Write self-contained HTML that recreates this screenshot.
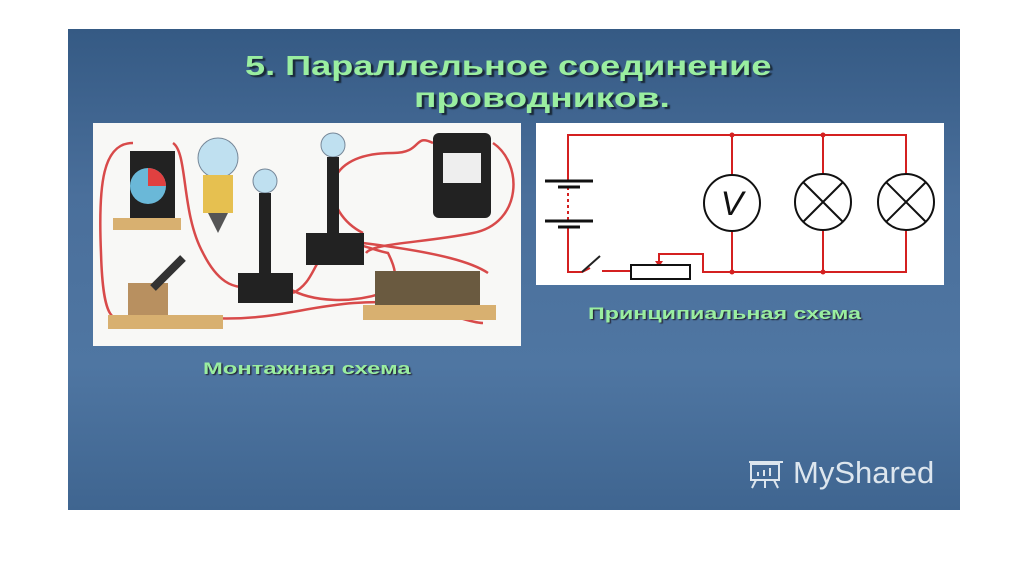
<!DOCTYPE html>
<html><head><meta charset="utf-8"><style>
body{margin:0;width:1024px;height:574px;background:#fff;position:relative;overflow:hidden;font-family:"Liberation Sans",sans-serif}
#slide{position:absolute;left:68px;top:29px;width:892px;height:481px;background:linear-gradient(180deg,#355a84 0%,#4a6f9b 35%,#4f76a2 70%,#3f6590 100%)}
.t{position:absolute;font-weight:bold;color:#9aeea0;text-shadow:2px 2px 1px #1a2a3a;white-space:nowrap;transform-origin:0 0}
</style></head><body>
<div id="slide"></div>
<div class="t" style="left:245px;top:50px;font-size:28px;transform:scaleX(1.29)">5. Параллельное соединение</div>
<div class="t" style="left:414px;top:82px;font-size:28px;transform:scaleX(1.33)">проводников.</div>
<div class="t" style="left:588px;top:304px;font-size:17px;transform:scaleX(1.37);text-shadow:1px 1px 1px #223">Принципиальная схема</div>
<div class="t" style="left:203px;top:359px;font-size:17px;transform:scaleX(1.40);text-shadow:1px 1px 1px #223">Монтажная схема</div>
<div style="position:absolute;left:793px;top:455px;font-size:31px;color:#dde6ee">MyShared</div>
<svg style="position:absolute;left:746px;top:460px" width="40" height="30"><g fill="none" stroke="#dde6ee" stroke-width="2"><rect x="5" y="4" width="28" height="16"/><path d="M3 2h34M10 20l-4 8M28 20l4 8M19 20v8"/><path d="M12 16v-4M18 16v-6M24 16v-8" /></g></svg>

<svg style="position:absolute;left:93px;top:123px" width="428" height="223">
<rect width="428" height="223" fill="#f8f8f6"/>
<g fill="none" stroke="#d84a4a" stroke-width="2.5">
<path d="M40 20 C10 20 5 60 8 130 C10 200 20 200 40 195"/>
<path d="M80 20 C95 30 88 90 110 130 C130 170 150 162 150 165"/>
<path d="M115 195 C200 200 230 170 330 182 C350 190 380 200 390 200"/>
<path d="M195 165 C220 180 260 180 290 170 C310 160 300 140 295 130 C270 125 250 110 233 130 C220 140 220 160 200 170"/>
<path d="M270 110 C230 90 220 30 300 30 C330 30 320 10 340 20"/>
<path d="M400 20 C430 40 430 100 380 110 C330 120 280 120 273 130"/>
<path d="M270 120 C350 130 380 140 395 150"/>
</g>
<rect x="37" y="28" width="45" height="70" fill="#222"/>
<circle cx="55" cy="63" r="18" fill="#6ab8d8"/><path d="M55 45 A18 18 0 0 1 73 63 L55 63Z" fill="#e04040"/>
<rect x="20" y="95" width="68" height="12" fill="#d8b070"/>
<circle cx="125" cy="35" r="20" fill="#bfe0f0" stroke="#789" /><rect x="110" y="52" width="30" height="38" fill="#e6c050"/><path d="M115 90h20l-10 20z" fill="#555"/>
<circle cx="172" cy="58" r="12" fill="#bfe0f0" stroke="#789"/><rect x="166" y="70" width="12" height="85" fill="#222"/>
<rect x="145" y="150" width="55" height="30" fill="#222"/>
<circle cx="240" cy="22" r="12" fill="#bfe0f0" stroke="#789"/><rect x="234" y="34" width="12" height="85" fill="#222"/>
<rect x="213" y="110" width="58" height="32" fill="#222"/>
<rect x="340" y="10" width="58" height="85" rx="6" fill="#222"/><rect x="350" y="30" width="38" height="30" fill="#eee"/>
<rect x="282" y="148" width="105" height="35" fill="#6a5a40"/><rect x="270" y="182" width="133" height="15" fill="#d8b070"/>
<rect x="35" y="160" width="40" height="32" fill="#b89060"/><path d="M60 165 L90 135" stroke="#333" stroke-width="8"/>
<rect x="15" y="192" width="115" height="14" fill="#d8b070"/>
</svg>

<svg style="position:absolute;left:536px;top:123px" width="408" height="162">
<rect width="408" height="162" fill="#fff"/>
<g fill="none" stroke="#d42020" stroke-width="2">
<path d="M32 58V12H370V56M196 12V51M287 12V51M196 108V149M287 108V149M370 108V149H167V131H123V142"/>
<path d="M32 104V149H46L54 145M66 148H95"/>
<path d="M32 64V100" stroke-dasharray="3 3"/>
</g>
<path d="M46 149L64 133" stroke="#222" stroke-width="2"/>
<polygon points="119,138 127,138 123,144" fill="#d42020"/>
<g stroke="#111" stroke-width="3"><path d="M9 58H57M22 64H44M9 98H57M22 104H44"/></g>
<rect x="95" y="142" width="59" height="14" fill="#fff" stroke="#111" stroke-width="2"/>
<g fill="#fff" stroke="#111" stroke-width="2">
<circle cx="196" cy="80" r="28"/><circle cx="287" cy="79" r="28"/><circle cx="370" cy="79" r="28"/>
</g>
<g stroke="#111" stroke-width="2"><path d="M267 59L307 99M307 59L267 99M350 59L390 99M390 59L350 99"/></g>
<text x="196" y="92" text-anchor="middle" font-size="34" font-style="italic" font-family="Liberation Sans" fill="#111">V</text>
<circle cx="196" cy="149" r="2.5" fill="#d42020"/><circle cx="287" cy="149" r="2.5" fill="#d42020"/>
<circle cx="196" cy="12" r="2.5" fill="#d42020"/><circle cx="287" cy="12" r="2.5" fill="#d42020"/>
</svg>
</body></html>
